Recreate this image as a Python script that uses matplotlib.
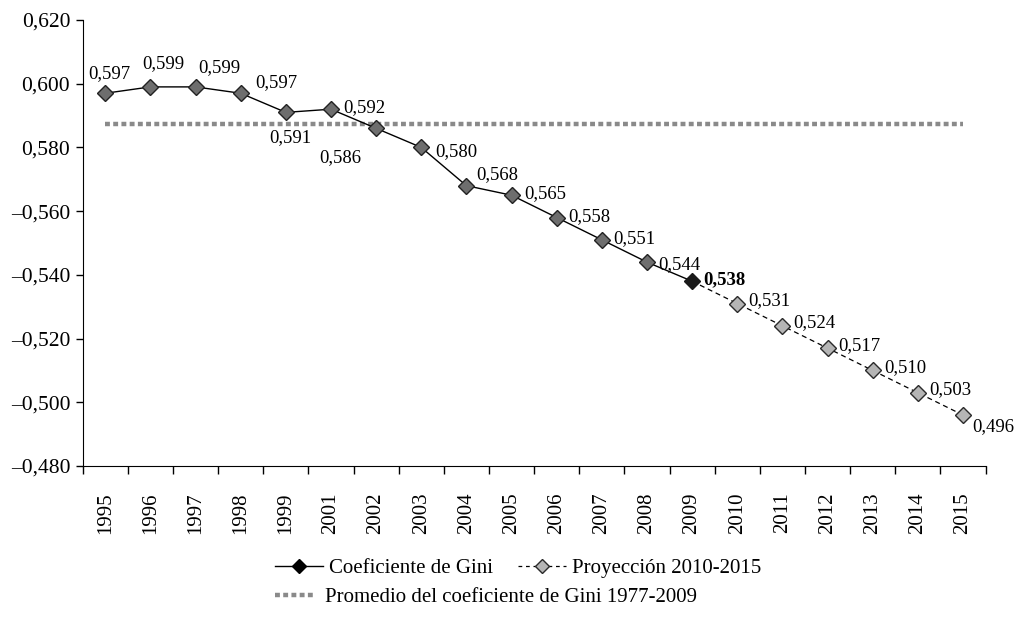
import numpy as np
import matplotlib.pyplot as plt
from matplotlib.lines import Line2D

# -----------------------
# Data
# -----------------------
years = ['1995', '1996', '1997', '1998', '1999', '2001', '2002', '2003', '2004', '2005',
         '2006', '2007', '2008', '2009', '2010', '2011', '2012', '2013', '2014', '2015']
gini = [0.597, 0.599, 0.599, 0.597, 0.591, 0.592, 0.586, 0.580, 0.568, 0.565,
        0.558, 0.551, 0.544, 0.538]
proyeccion = [0.538, 0.531, 0.524, 0.517, 0.510, 0.503, 0.496]
promedio = 0.5873

ytick_vals = [0.620, 0.600, 0.580, 0.560, 0.540, 0.520, 0.500, 0.480]
ytick_labels = ['0,620', '0,600', '0,580', '\u20130,560', '\u20130,540',
                '\u20130,520', '\u20130,500', '\u20130,480']

# label offsets (points) and alignment for each Gini value
gini_offsets = [(3, 14), (9, 17), (17, 14), (26, 8), (3, -18), (9, 1), (-26, -21),
                (10, -3), (7, 8), (9, 1), (8, 1), (8, 1), (8, -2), (8, 1)]
gini_ha = ['center', 'center', 'center', 'center', 'center', 'left', 'center',
           'left', 'left', 'left', 'left', 'left', 'left', 'left']
proy_offsets = [(8, 2), (8, 2), (8, 2), (8, 2), (8, 2), (7, -8)]

def fmt(v):
    return f"{v:.3f}".replace('.', ',')

plt.rcParams['font.family'] = ['Liberation Serif', 'DejaVu Serif']

fig = plt.figure(figsize=(10.16, 6.17), dpi=100)
ax = fig.add_axes([0.0814, 0.2447, 0.8886, 0.7229])

x_all = np.arange(len(years))
x_gini = x_all[:len(gini)]
x_proy = x_all[len(gini) - 1:]

# average line
ax.plot([x_all[0], x_all[-1]], [promedio, promedio], color='#8a8a8a', lw=3.2,
        linestyle=(0, (1.1, 0.75)), solid_capstyle='butt', dash_capstyle='butt', zorder=1)

# projection
ax.plot(x_proy, proyeccion, color='black', lw=0.9, linestyle=(0, (4, 3)), zorder=2)
ax.plot(x_proy[1:], proyeccion[1:], linestyle='none', marker='D', ms=8.5,
        mfc='#b5b5b5', mec='#2a2a2a', mew=1.0, zorder=3)

# gini series
ax.plot(x_gini, gini, color='black', lw=1.0, zorder=2)
ax.plot(x_gini[:-1], gini[:-1], linestyle='none', marker='D', ms=8.5,
        mfc='#6e6e6e', mec='#222222', mew=1.0, zorder=3)
ax.plot(x_gini[-1:], gini[-1:], linestyle='none', marker='D', ms=8.5,
        mfc='#1a1a1a', mec='#1a1a1a', mew=1.0, zorder=4)

for i, v in enumerate(gini):
    bold = (i == len(gini) - 1)
    ax.annotate(fmt(v), (x_gini[i], v), xytext=gini_offsets[i], textcoords='offset points',
                ha=gini_ha[i], va='center', fontsize=13.5,
                fontweight='bold' if bold else 'normal')
for i, v in enumerate(proyeccion[1:]):
    ax.annotate(fmt(v), (x_proy[i + 1], v), xytext=proy_offsets[i], textcoords='offset points',
                ha='left', va='center', fontsize=13.5)

# axes styling
ax.set_xlim(-0.5, len(years) - 0.5)
ax.set_ylim(0.48, 0.62)
ax.spines['top'].set_visible(False)
ax.spines['right'].set_visible(False)
ax.set_yticks(ytick_vals)
ax.set_yticklabels(ytick_labels, fontsize=15.5)
ax.tick_params(axis='y', direction='out', length=5, width=1, pad=4)

ax.set_xticks(np.arange(-0.5, len(years), 1.0))
ax.set_xticklabels([])
ax.tick_params(axis='x', which='major', direction='out', length=6, width=1)
ax.set_xticks(x_all, minor=True)
ax.set_xticklabels(years, minor=True, rotation=90, fontsize=15)
ax.tick_params(axis='x', which='minor', length=0, pad=19)

# legend
h1 = Line2D([], [], color='black', lw=1.0, marker='D', ms=7, mfc='black', mec='black')
h2 = Line2D([], [], color='black', lw=0.9, linestyle=(0, (3, 3)), marker='D', ms=7,
            mfc='#b5b5b5', mec='#2a2a2a')
h3 = Line2D([], [], color='#8a8a8a', lw=3.2, linestyle=(0, (1.1, 0.75)))
fig.legend([h1, h2], ['Coeficiente de Gini', 'Proyecci\u00f3n 2010-2015'],
           loc='center left', bbox_to_anchor=(275 / 1016, 1 - 568 / 617),
           ncol=2, frameon=False, fontsize=15, handlelength=2.3,
           handletextpad=0.3, columnspacing=1.2, borderpad=0, borderaxespad=0)
fig.legend([h3], ['Promedio del coeficiente de Gini 1977-2009'],
           loc='center left', bbox_to_anchor=(275 / 1016, 1 - 597 / 617),
           frameon=False, fontsize=15, handlelength=1.95, handletextpad=0.45,
           borderpad=0, borderaxespad=0)

fig.savefig('out.png', dpi=100)
